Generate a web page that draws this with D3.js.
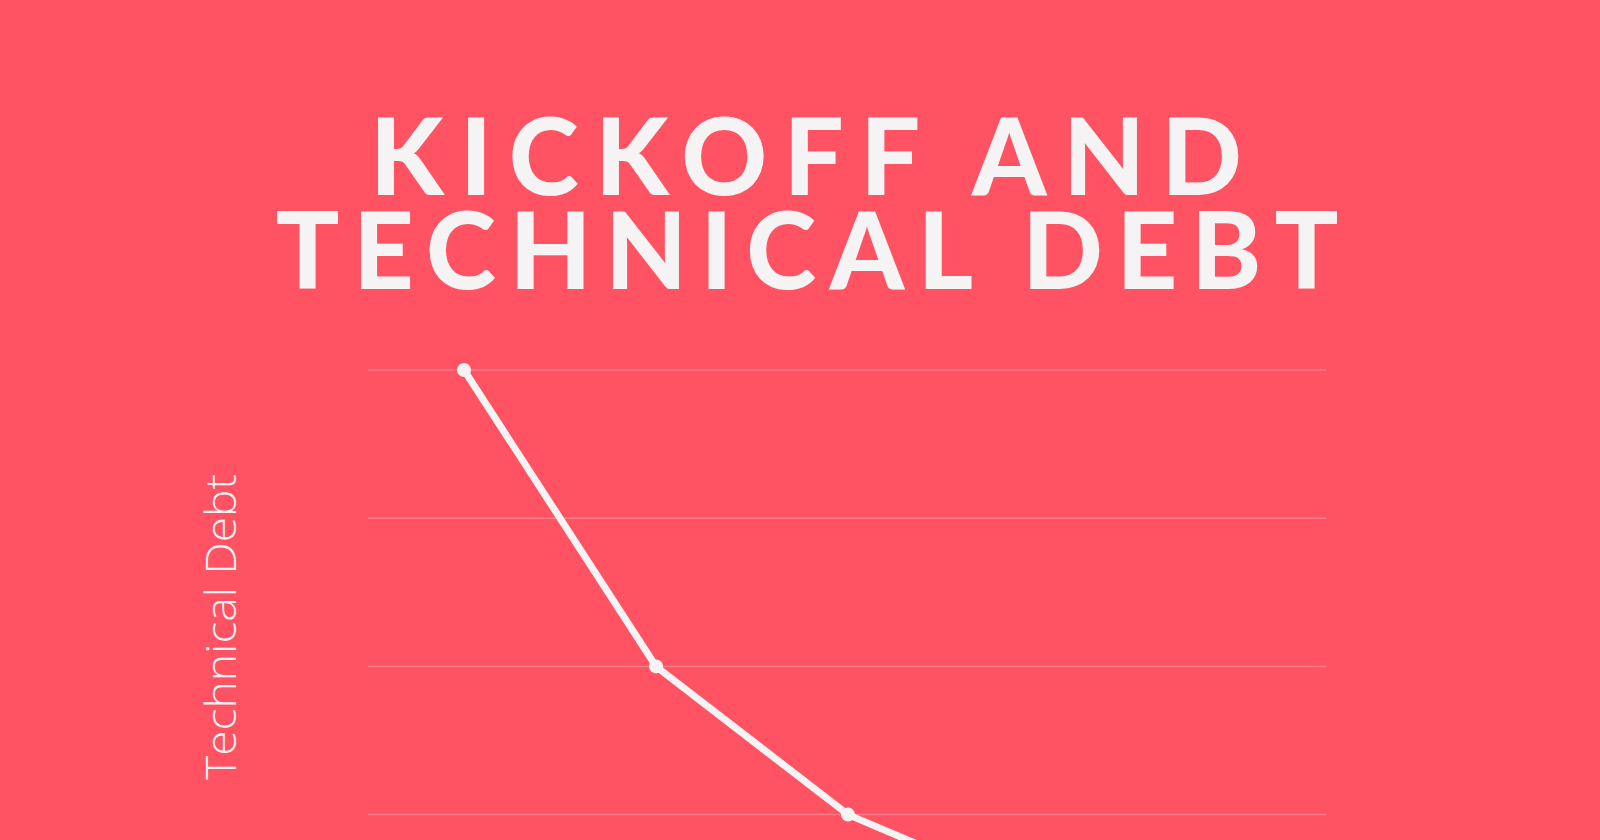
<!DOCTYPE html>
<html>
<head>
<meta charset="utf-8">
<script src="https://cdn.jsdelivr.net/npm/d3@7"></script>
<style>
  html, body { margin: 0; padding: 0; overflow: hidden; background: #ff5262; }
  svg { display: block; }
</style>
</head>
<body>
<div id="chart"></div>
<script>
// data (only the first part of the line is visible)
const titleLines = ["KICKOFF AND", "TECHNICAL DEBT"]
const yLabel = "Technical Debt"
const phases = ["Kickoff", "Phase 2", "Phase 3", "Phase 4", "Phase 5"]
const debt = [10, 6, 4, 2.9, 2.3]
const yTicks = [2, 4, 6, 8, 10]

function drawChart () {
  const width = 1600
  const height = 840

  const bg = "#ff5262"
  const ink = "#f5f3f3"

  const svg = d3.select("#chart")
    .append("svg")
    .attr("width", width)
    .attr("height", height)

  svg.append("rect")
    .attr("width", width)
    .attr("height", height)
    .attr("fill", bg)

  // title: one text block, two centered lines with wide tracking
  const titleSpec = [
    {x: 806, y: 195, len: 872},
    {x: 807, y: 289, len: 1063}
  ]
  svg.append("text")
    .attr("text-anchor", "middle")
    .attr("fill", ink)
    .style("font-family", "Lato, 'Open Sans', sans-serif")
    .style("font-weight", 900)
    .style("font-size", "106px")
    .selectAll("tspan")
    .data(titleLines)
    .join("tspan")
      .attr("x", (d, i) => titleSpec[i].x)
      .attr("y", (d, i) => titleSpec[i].y)
      .attr("textLength", (d, i) => titleSpec[i].len)
      .attr("lengthAdjust", "spacing")
      .text(d => d)

  // scales (the plot runs past the bottom of the page, as in the picture)
  const x = d3.scalePoint()
    .domain(phases)
    .range([368, 1328])
    .padding(0.5)

  const y = d3.scaleLinear()
    .domain([0, 10])
    .range([1111, 370])

  // horizontal grid
  svg.append("g")
    .selectAll("line")
    .data(yTicks)
    .join("line")
      .attr("x1", 368)
      .attr("x2", 1326)
      .attr("y1", d => y(d))
      .attr("y2", d => y(d))
      .attr("stroke", "#ff7d88")
      .attr("stroke-width", 1.5)

  // y axis title
  svg.append("text")
    .attr("transform", "translate(236,627) rotate(-90)")
    .attr("text-anchor", "middle")
    .attr("textLength", 306)
    .attr("lengthAdjust", "spacingAndGlyphs")
    .attr("fill", ink)
    .style("font-family", "'Open Sans', Lato, sans-serif")
    .style("font-weight", 300)
    .style("font-size", "43px")
    .text(yLabel)

  // the line and its points
  const line = d3.line()
    .x((d, i) => x(phases[i]))
    .y(d => y(d))

  svg.append("path")
    .datum(debt)
    .attr("d", line)
    .attr("fill", "none")
    .attr("stroke", ink)
    .attr("stroke-width", 7)
    .attr("stroke-linejoin", "round")

  svg.append("g")
    .selectAll("circle")
    .data(debt)
    .join("circle")
      .attr("cx", (d, i) => x(phases[i]))
      .attr("cy", d => y(d))
      .attr("r", 7)
      .attr("fill", ink)
}

drawChart()
</script>
</body>
</html>
